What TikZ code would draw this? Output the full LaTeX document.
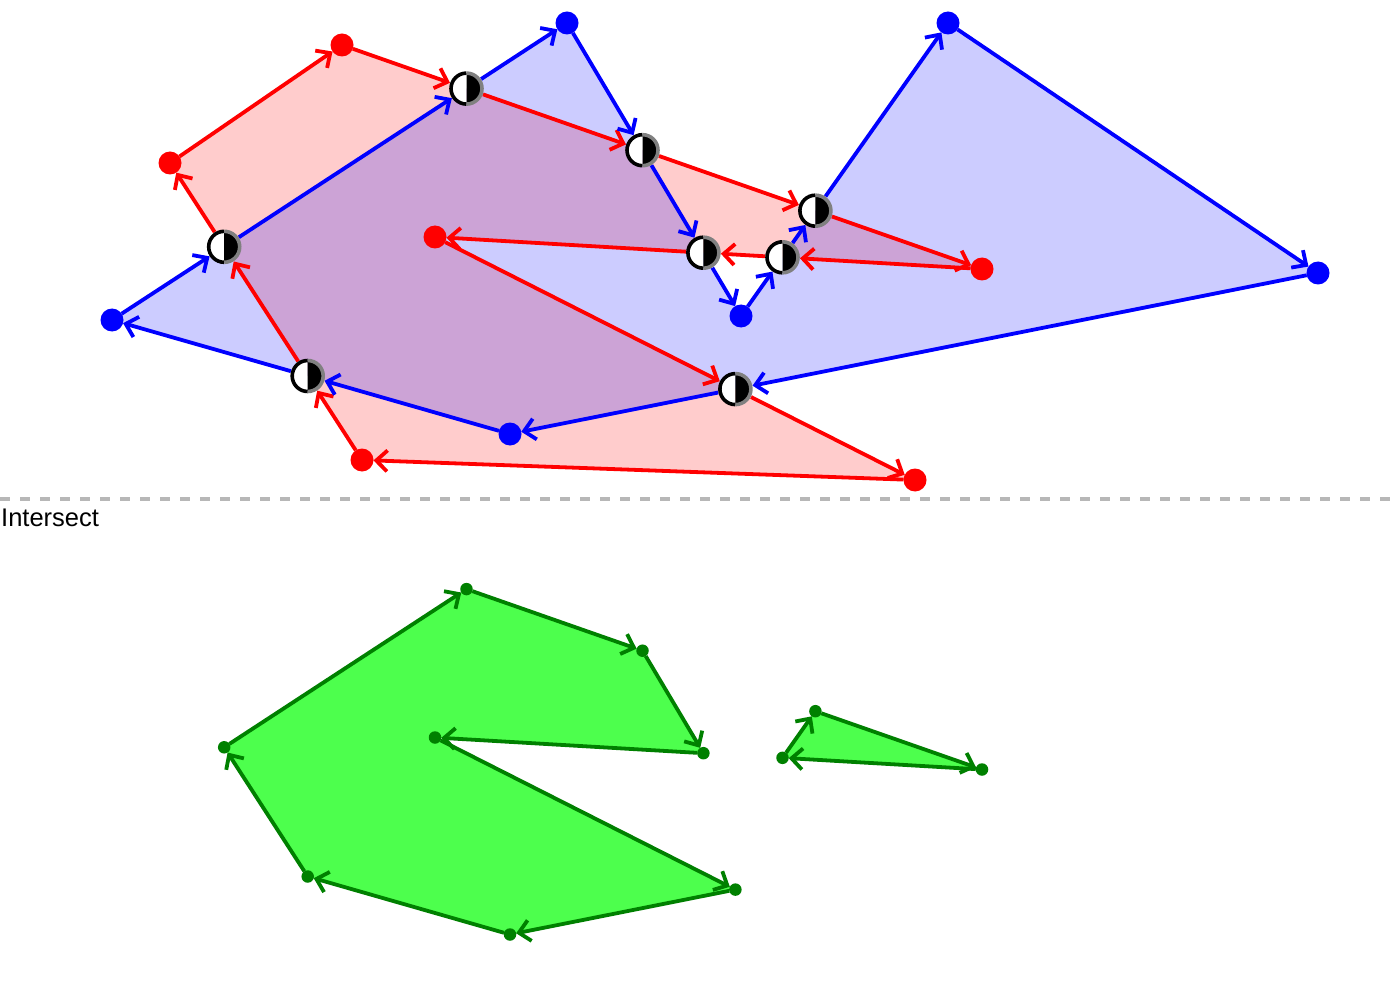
\documentclass[tikz,border=0pt]{standalone}
\usepackage{fontspec}
\setmainfont{Liberation Sans}
\usetikzlibrary{arrows.meta}
\definecolor{gfill}{RGB}{77,255,77}
\definecolor{gline}{RGB}{0,128,0}
\definecolor{dashgray}{RGB}{183,183,183}
\definecolor{mkgray}{RGB}{128,128,128}
\begin{document}
\begin{tikzpicture}[x=1pt,y=-1pt,
  rdot/.style={circle, fill=red, minimum size=23pt, inner sep=0pt, outer sep=0pt},
  bdot/.style={circle, fill=blue, minimum size=23pt, inner sep=0pt, outer sep=0pt},
  gdot/.style={circle, fill=gline, minimum size=12.5pt, inner sep=0pt, outer sep=0pt},
  xmk/.style={circle, minimum size=35pt, inner sep=0pt, outer sep=0pt},
  tip/.style={-{Straight Barb[length=11pt,width=21pt]}},
  redge/.style={draw=red, line width=3.8pt, tip},
  bedge/.style={draw=blue, line width=3.8pt, tip},
  gedge/.style={draw=gline, line width=3.8pt, tip},
  redfill/.style={fill=red, fill opacity=0.2},
  bluefill/.style={fill=blue, fill opacity=0.2},
  greenpoly/.style={fill=gfill, draw=none},
  sep/.style={draw=dashgray, line width=4pt, dash pattern=on 10pt off 10pt}
]
\useasboundingbox (0,0) rectangle (1400,1000);
% positions
\coordinate (pr1) at (342,45);
\coordinate (pr2) at (982,269);
\coordinate (pr3) at (435,237);
\coordinate (pr4) at (915,480);
\coordinate (pr5) at (362,460);
\coordinate (pr6) at (170,163);
\coordinate (pb1) at (112,320);
\coordinate (pb2) at (567,23);
\coordinate (pb3) at (741,316);
\coordinate (pb4) at (948,23);
\coordinate (pb5) at (1318,273);
\coordinate (pb6) at (510,434);
\coordinate (pg1) at (224.2,747.3);
\coordinate (pg2) at (466.5,589.1);
\coordinate (pg3) at (642.5,650.7);
\coordinate (pg4) at (703.4,753.2);
\coordinate (pg5) at (435,737.5);
\coordinate (pg6) at (735.4,889.6);
\coordinate (pg7) at (510,934.5);
\coordinate (pg8) at (307.7,876.5);
\coordinate (ph1) at (782.5,757.8);
\coordinate (ph2) at (815.4,711.2);
\coordinate (ph3) at (982,769.5);
% fills
\fill[redfill] (pr1) -- (pr2) -- (pr3) -- (pr4) -- (pr5) -- (pr6) -- cycle;
\fill[bluefill] (pb1) -- (pb2) -- (pb3) -- (pb4) -- (pb5) -- (pb6) -- cycle;
\fill[greenpoly] (pg1) -- (pg2) -- (pg3) -- (pg4) -- (pg5) -- (pg6) -- (pg7) -- (pg8) -- cycle;
\fill[greenpoly] (ph1) -- (ph2) -- (ph3) -- cycle;
% vertex nodes
\node[rdot] (r1) at (pr1) {};
\node[rdot] (r2) at (pr2) {};
\node[rdot] (r3) at (pr3) {};
\node[rdot] (r4) at (pr4) {};
\node[rdot] (r5) at (pr5) {};
\node[rdot] (r6) at (pr6) {};
\node[bdot] (b1) at (pb1) {};
\node[bdot] (b2) at (pb2) {};
\node[bdot] (b3) at (pb3) {};
\node[bdot] (b4) at (pb4) {};
\node[bdot] (b5) at (pb5) {};
\node[bdot] (b6) at (pb6) {};
% intersection nodes
\node[xmk] (i1) at (466.5,88.6) {};
\node[xmk] (i2) at (642.5,150.2) {};
\node[xmk] (i3) at (815.4,210.7) {};
\node[xmk] (i4) at (782.5,257.3) {};
\node[xmk] (i5) at (703.4,252.7) {};
\node[xmk] (i6) at (735.4,389.1) {};
\node[xmk] (i7) at (307.7,376.0) {};
\node[xmk] (i8) at (224.2,246.8) {};
% green nodes
\node[gdot] (g1) at (pg1) {};
\node[gdot] (g2) at (pg2) {};
\node[gdot] (g3) at (pg3) {};
\node[gdot] (g4) at (pg4) {};
\node[gdot] (g5) at (pg5) {};
\node[gdot] (g6) at (pg6) {};
\node[gdot] (g7) at (pg7) {};
\node[gdot] (g8) at (pg8) {};
\node[gdot] (h1) at (ph1) {};
\node[gdot] (h2) at (ph2) {};
\node[gdot] (h3) at (ph3) {};
% red edges
\draw[redge] (r1) -- (i1);
\draw[redge] (i1) -- (i2);
\draw[redge] (i2) -- (i3);
\draw[redge] (i3) -- (r2);
\draw[redge] (r2) -- (i4);
\draw[redge] (i4) -- (i5);
\draw[redge] (i5) -- (r3);
\draw[redge] (r3) -- (i6);
\draw[redge] (i6) -- (r4);
\draw[redge] (r4) -- (r5);
\draw[redge] (r5) -- (i7);
\draw[redge] (i7) -- (i8);
\draw[redge] (i8) -- (r6);
\draw[redge] (r6) -- (r1);
% blue edges
\draw[bedge] (b1) -- (i8);
\draw[bedge] (i8) -- (i1);
\draw[bedge] (i1) -- (b2);
\draw[bedge] (b2) -- (i2);
\draw[bedge] (i2) -- (i5);
\draw[bedge] (i5) -- (b3);
\draw[bedge] (b3) -- (i4);
\draw[bedge] (i4) -- (i3);
\draw[bedge] (i3) -- (b4);
\draw[bedge] (b4) -- (b5);
\draw[bedge] (b5) -- (i6);
\draw[bedge] (i6) -- (b6);
\draw[bedge] (b6) -- (i7);
\draw[bedge] (i7) -- (b1);
% markers
\foreach \m in {i1,i2,i3,i4,i5,i6,i7,i8}{
  \begin{scope}[shift={(\m.center)}]
    \fill[white] (0,15.5) arc[start angle=90, end angle=270, radius=15.5] -- cycle;
    \fill[black] (0,15.5) arc[start angle=90, end angle=-90, radius=15.5] -- cycle;
    \draw[black, line width=3.6pt] (0,15.5) arc[start angle=90, end angle=270, radius=15.5];
    \draw[mkgray, line width=3.6pt] (0,15.5) arc[start angle=90, end angle=-90, radius=15.5];
  \end{scope}
}
% separator and label
\coordinate (sl) at (0,499);
\coordinate (sr) at (1400,499);
\draw[sep] (sl) -- (sr);
\node[anchor=base west, inner sep=0pt, font=\fontsize{25.5}{30}\selectfont] (lbl) at (1,526) {Intersect};
% green edges
\draw[gedge] (g1) -- (g2);
\draw[gedge] (g2) -- (g3);
\draw[gedge] (g3) -- (g4);
\draw[gedge] (g4) -- (g5);
\draw[gedge] (g5) -- (g6);
\draw[gedge] (g6) -- (g7);
\draw[gedge] (g7) -- (g8);
\draw[gedge] (g8) -- (g1);
\draw[gedge] (h1) -- (h2);
\draw[gedge] (h2) -- (h3);
\draw[gedge] (h3) -- (h1);
\end{tikzpicture}
\end{document}
